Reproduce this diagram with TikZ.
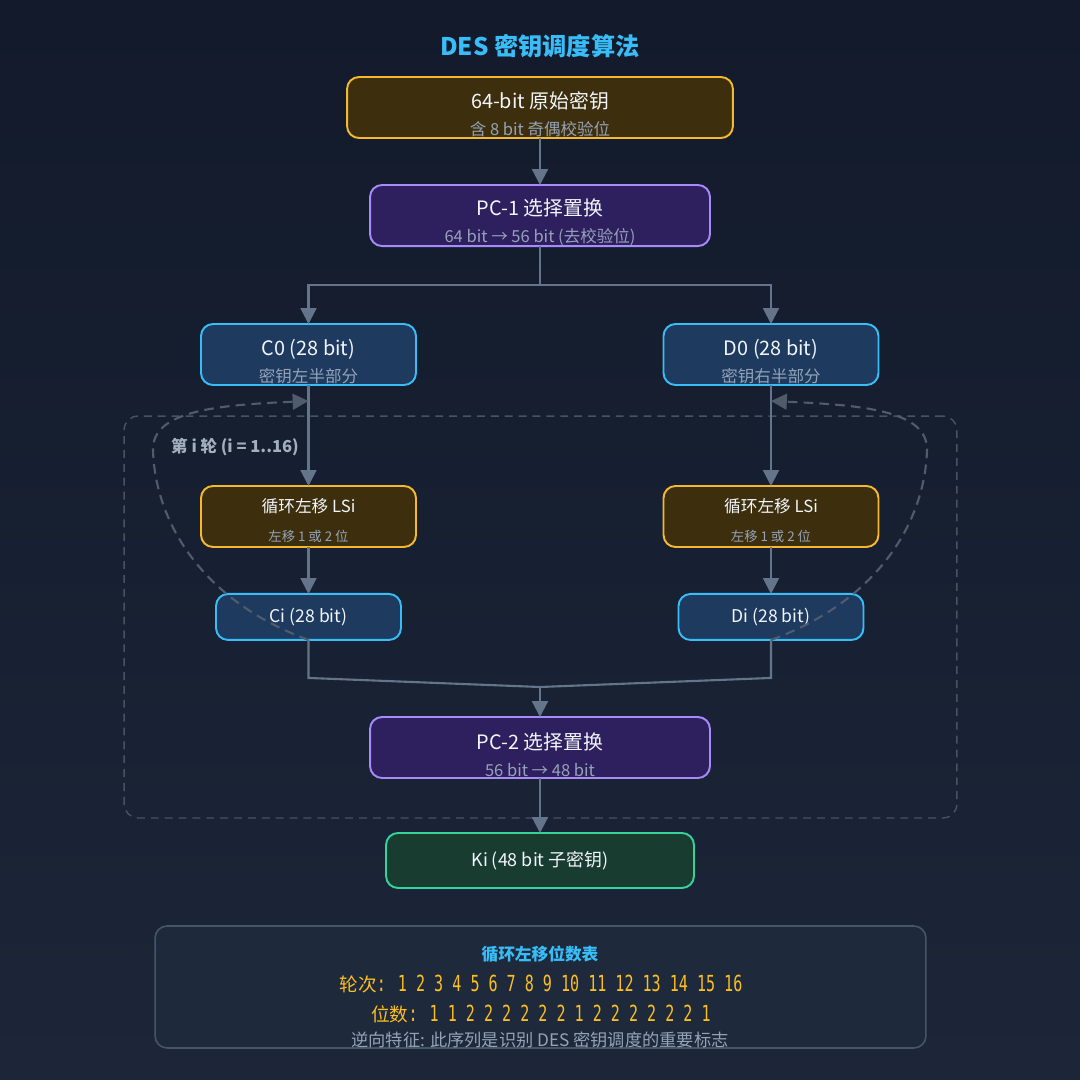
\documentclass[tikz,border=0pt]{standalone}
\usepackage{fontspec}
\setmainfont{Noto Sans CJK SC}
\newfontfamily\digitfont{DejaVu Sans Mono}[FakeStretch=0.68]
\usepackage{xcolor}
\usepackage{tikz}
\usetikzlibrary{
  arrows.meta,
  positioning,
  calc
}
\definecolor{bgtop}{HTML}{121A2B}
\definecolor{bgbot}{HTML}{1C2638}
\definecolor{titleblue}{HTML}{38BDF8}
\definecolor{amberline}{HTML}{F5B82E}
\definecolor{amberfill}{HTML}{3D2F0D}
\definecolor{violetline}{HTML}{A78BFA}
\definecolor{violetfill}{HTML}{2E1F5E}
\definecolor{skyline}{HTML}{38BDF8}
\definecolor{skyfill}{HTML}{1E3A5F}
\definecolor{greenline}{HTML}{34D399}
\definecolor{greenfill}{HTML}{183D30}
\definecolor{slatearrow}{HTML}{64748B}
\definecolor{dashgray}{HTML}{505B6C}
\definecolor{framegray}{HTML}{475263}
\definecolor{subgray}{HTML}{94A3B8}
\definecolor{labelgray}{HTML}{A3AEBF}
\definecolor{maintext}{HTML}{F1F5F9}
\definecolor{tablefill}{HTML}{1E293B}
\definecolor{tableline}{HTML}{475569}
\definecolor{tableyellow}{HTML}{FBBF24}
\newcommand{\txtmain}{\fontsize{11.3}{15.3}\selectfont}
\newcommand{\txtsub}{\fontsize{9.4}{15.3}\selectfont\color{subgray}}
\newcommand{\txtls}{\fontsize{9.5}{16.4}\selectfont}
\newcommand{\txtlssub}{\fontsize{7.6}{16.4}\selectfont\color{subgray}}
\newcommand{\liftmain}{\rule{0pt}{17.6pt}}
\newcommand{\liftls}{\rule{0pt}{12.8pt}}

\begin{document}
\begin{tikzpicture}[
  x=0.02cm, y=-0.02cm,
  box/.style={rounded corners=0.24cm, line width=1.1pt, align=center,
              text=maintext, inner sep=0pt, outer sep=0pt},
  amberbox/.style={box, draw=amberline, fill=amberfill},
  violetbox/.style={box, draw=violetline, fill=violetfill,
                    minimum width=6.8cm, minimum height=1.22cm, font=\txtmain},
  skybox/.style={box, draw=skyline, fill=skyfill},
  greenbox/.style={box, draw=greenline, fill=greenfill},
  halfbox/.style={skybox, minimum width=4.3cm, minimum height=1.22cm, font=\txtmain},
  shiftbox/.style={amberbox, minimum width=4.3cm, minimum height=1.22cm, font=\txtls},
  roundbox/.style={skybox, minimum width=3.7cm, minimum height=0.92cm,
                   font=\fontsize{10}{12}\selectfont},
  arr/.style={-{Triangle[length=9pt,width=9pt]}, line width=1.2pt, draw=slatearrow},
  link/.style={line width=1.2pt, draw=slatearrow},
  back/.style={-{Triangle[length=9pt,width=9pt]}, line width=1.2pt, draw=dashgray,
               dash pattern=on 5.5pt off 3.5pt},
]
\shade[top color=bgtop, bottom color=bgbot] (0,0) rectangle (1080,1080);
\useasboundingbox (0,0) rectangle (1080,1080);

% title
\node[font=\bfseries\fontsize{13.8}{16}\selectfont, text=titleblue] (title) at (540,46)
  {DES 密钥调度算法};

% round frame
\node[draw=framegray, line width=0.8pt, dash pattern=on 4.5pt off 3.4pt,
      rounded corners=0.28cm, minimum width=16.66cm, minimum height=8.04cm]
  (roundframe) at (540.5,617) {};
\node[anchor=west, font=\bfseries\fontsize{9.4}{11}\selectfont, text=labelgray]
  (roundlbl) at (165,447) {第 i 轮 (i = 1..16)};

% key and PC-1
\node[amberbox, minimum width=7.72cm, minimum height=1.22cm, font=\txtmain]
  (key) at (540,107.5) {\liftmain 64-bit 原始密钥\\{\txtsub 含 8 bit 奇偶校验位}};
\node[violetbox, below=0.94cm of key] (pc1)
  {\liftmain PC-1 选择置换\\{\txtsub 64 bit → 56 bit (去校验位)}};

% halves
\node[halfbox] (c0) at (308.5,354.5) {\liftmain C0 (28 bit)\\{\txtsub 密钥左半部分}};
\node[halfbox] (d0) at (771,354.5)   {\liftmain D0 (28 bit)\\{\txtsub 密钥右半部分}};
\node[shiftbox, below=2.02cm of c0] (lsl) {\liftls 循环左移 LSi\\{\txtlssub 左移 1 或 2 位}};
\node[shiftbox, below=2.02cm of d0] (lsr) {\liftls 循环左移 LSi\\{\txtlssub 左移 1 或 2 位}};
\node[roundbox, below=0.94cm of lsl] (ci) {Ci (28 bit)};
\node[roundbox, below=0.94cm of lsr] (di) {Di (28 bit)};

% PC-2 and subkey
\node[violetbox] (pc2) at (540,747.5) {\liftmain PC-2 选择置换\\{\txtsub 56 bit → 48 bit}};
\node[greenbox, minimum width=6.16cm, minimum height=1.1cm,
      font=\fontsize{10.2}{12}\selectfont, below=1.1cm of pc2] (ki)
  {Ki (48 bit 子密钥)};

\coordinate (split) at (540,285);
\coordinate (merge) at (540,687);
\coordinate (backl) at ($(c0.south)+(0,16)$);
\coordinate (backr) at ($(d0.south)+(0,16)$);

\draw[arr] (key) -- (pc1);
\draw[link] (pc1) -- (split);
\draw[arr] (split) -| (c0);
\draw[arr] (split) -| (d0);
\draw[arr] (c0) -- (lsl);
\draw[arr] (d0) -- (lsr);
\draw[arr] (lsl) -- (ci);
\draw[arr] (lsr) -- (di);
\draw[link] (ci.south) -- ++(0,38) -- (merge);
\draw[link] (di.south) -- ++(0,38) -- (merge);
\draw[arr] (merge) -- (pc2);
\draw[arr] (pc2) -- (ki);

% feedback to next round
\draw[back] (ci.south) .. controls (200,600) and (155,520) .. (153,450)
  .. controls (152,410) and (220,405) .. (backl);
\draw[back] (di.south) .. controls (880,600) and (925,520) .. (927,450)
  .. controls (928,410) and (860,405) .. (backr);

% shift table
\node[draw=tableline, fill=tablefill, line width=0.9pt, rounded corners=0.24cm,
      minimum width=15.42cm, minimum height=2.44cm] (tbl) at (540.5,987) {};
\node[font=\bfseries\fontsize{9.5}{11}\selectfont, text=titleblue] (tbltitle) at (540,954)
  {循环左移位数表};
\node[font=\fontsize{10.6}{13}\selectfont, text=tableyellow] (rounds) at (541,984)
  {轮次{\digitfont\fontsize{12.6}{15}\selectfont : 1 2 3 4 5 6 7 8 9 10 11 12 13 14 15 16}};
\node[font=\fontsize{10.6}{13}\selectfont, text=tableyellow] (shifts) at (541,1014)
  {位数{\digitfont\fontsize{12.6}{15}\selectfont : 1 1 2 2 2 2 2 2 1 2 2 2 2 2 2 1}};
\node[font=\fontsize{9.8}{12}\selectfont, text=subgray] (note) at (540,1040)
  {逆向特征: 此序列是识别 DES 密钥调度的重要标志};
\end{tikzpicture}
\end{document}
